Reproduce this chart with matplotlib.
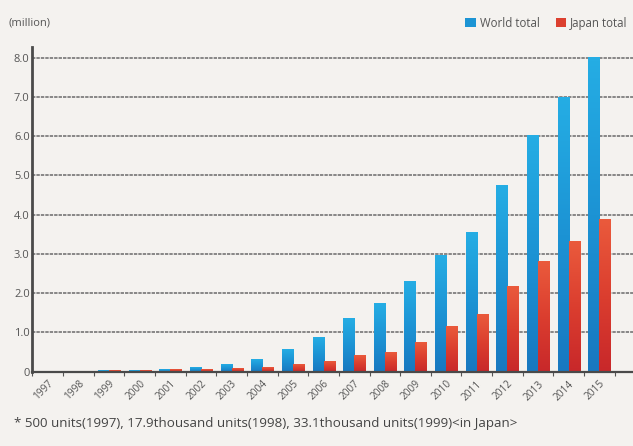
import matplotlib
matplotlib.use("Agg")
import matplotlib.pyplot as plt
from matplotlib.colors import LinearSegmentedColormap
import numpy as np

years = ["1997", "1998", "1999", "2000", "2001", "2002", "2003", "2004", "2005", "2006",
         "2007", "2008", "2009", "2010", "2011", "2012", "2013", "2014", "2015"]
world_total = [0.001, 0.01, 0.03, 0.04, 0.07, 0.12, 0.18, 0.31, 0.58, 0.88,
               1.36, 1.75, 2.30, 2.97, 3.55, 4.75, 6.03, 7.01, 8.03]
japan_total = [0.0005, 0.018, 0.033, 0.05, 0.07, 0.07, 0.10, 0.12, 0.19, 0.26,
               0.42, 0.51, 0.76, 1.17, 1.47, 2.17, 2.81, 3.34, 3.90]
y_ticks = [0, 1, 2, 3, 4, 5, 6, 7, 8]
y_tick_labels = ["0", "1.0", "2.0", "3.0", "4.0", "5.0", "6.0", "7.0", "8.0"]

plt.rcParams['font.family'] = ['Open Sans', 'DejaVu Sans']
bg = "#f4f2ef"
blue = "#1c94d4"
red = "#dc402f"
blue_cmap = LinearSegmentedColormap.from_list("b", ["#1878c0", "#1c93d4", "#25ade4"])
red_cmap = LinearSegmentedColormap.from_list("r", ["#c8282a", "#db3e2f", "#ea5a3c"])
txt = "#555555"

fig = plt.figure(figsize=(6.33, 4.46), dpi=100, facecolor=bg)
ax = fig.add_axes([0.0513, 0.167, 0.9487, 0.728])
ax.set_facecolor(bg)

x = np.arange(len(years))
w = 0.36
bars_w = ax.bar(x - w / 2, world_total, width=w, color=blue, zorder=3, label="World total")
bars_j = ax.bar(x + w / 2, japan_total, width=w, color=red, zorder=3, label="Japan total")

grad = np.linspace(0, 1, 64).reshape(-1, 1)
for bars, cmap in ((bars_w, blue_cmap), (bars_j, red_cmap)):
    for r in bars:
        x0, y0, bw, bh = r.get_x(), r.get_y(), r.get_width(), r.get_height()
        im = ax.imshow(grad, extent=[x0, x0 + bw, y0, y0 + bh], origin='lower',
                       aspect='auto', cmap=cmap, zorder=3.5, interpolation='bilinear')
        im.set_clip_path(r)

ax.set_xlim(-0.5, 19.1)
ax.set_ylim(0, 8.28)

ax.set_yticks(y_ticks)
ax.set_yticklabels(y_tick_labels, fontsize=8, color=txt)
ax.tick_params(axis='y', length=0, pad=2)
for yv in y_ticks[1:]:
    ax.axhline(yv, color="#6a6a6a", lw=1.1, ls=(0, (2.2, 0.7)), zorder=1)

ax.set_xticks(x)
ax.set_xticklabels(years, rotation=45, ha='right', va='top', rotation_mode='anchor',
                   fontsize=7.3, color=txt)
ax.tick_params(axis='x', length=0, pad=5)
ax.set_xticks(np.arange(-0.5, 19, 1), minor=True)
ax.tick_params(axis='x', which='minor', length=3, width=0.8, color=txt, direction='out')

for s in ["top", "right"]:
    ax.spines[s].set_visible(False)
ax.spines["left"].set_color("#4a4a4a")
ax.spines["left"].set_linewidth(2)
ax.spines["bottom"].set_color("#4a4a4a")
ax.spines["bottom"].set_linewidth(1.6)
ax.spines["bottom"].set_zorder(4)

fig.text(0.013, 0.948, "(million)", fontsize=8, color=txt, va='center')

leg = fig.legend(loc='center right', bbox_to_anchor=(1.008, 0.948), ncol=2, frameon=False,
                 fontsize=8.3, handlelength=0.9, handleheight=0.9, handletextpad=0.35,
                 columnspacing=1.4, labelcolor=txt)

fig.text(0.022, 0.051,
         "* 500 units(1997), 17.9thousand units(1998), 33.1thousand units(1999)<in Japan>",
         fontsize=9.6, color="#444444", va='center')

fig.savefig("out.png", dpi=100, facecolor=bg)
